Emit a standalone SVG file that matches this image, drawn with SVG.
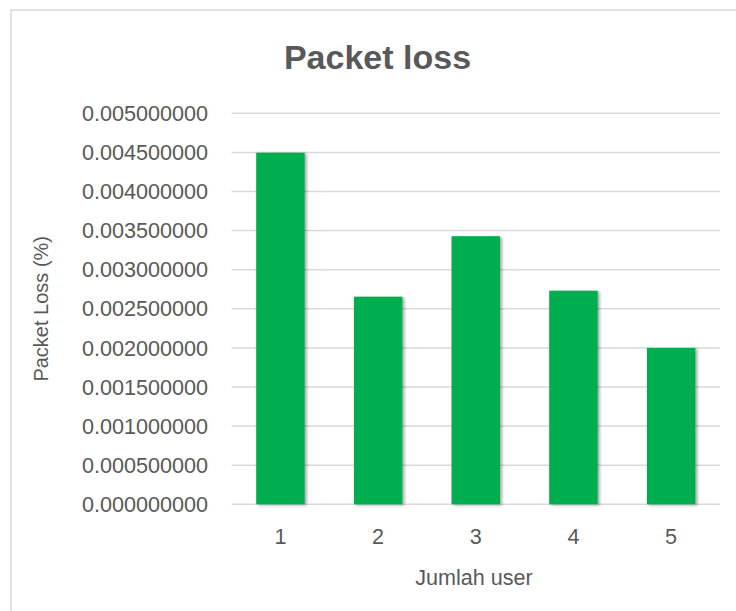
<svg xmlns="http://www.w3.org/2000/svg" width="736" height="611" viewBox="0 0 736 611">
  <defs>
    <style>
      .t { font-family: "Liberation Sans", Arial, sans-serif; fill: #595959; }
      .tick { font-size: 21.6px; text-anchor: end; }
      .xt { font-size: 21.6px; text-anchor: middle; }
      .grid { stroke: #D9D9D9; stroke-width: 1.5; fill: none; }
      .bar { fill: #00AD4F; }
    </style>
    <filter id="sh" x="-20%" y="-5%" width="140%" height="110%">
      <feDropShadow dx="2" dy="1" stdDeviation="1.6" flood-color="#000" flood-opacity="0.35"/>
    </filter>
  </defs>
  <rect x="0" y="0" width="736" height="611" fill="#FFFFFF"/>
  <rect x="11" y="10" width="760" height="640" fill="#FFFFFF" stroke="#D9D9D9" stroke-width="1.5"/>

  <text class="t" x="377.5" y="69" font-size="34" font-weight="bold" text-anchor="middle">Packet loss</text>

  <g id="gridlines">
    <line class="grid" x1="231.7" y1="113.3" x2="720" y2="113.3"/>
    <line class="grid" x1="231.7" y1="152.4" x2="720" y2="152.4"/>
    <line class="grid" x1="231.7" y1="191.5" x2="720" y2="191.5"/>
    <line class="grid" x1="231.7" y1="230.6" x2="720" y2="230.6"/>
    <line class="grid" x1="231.7" y1="269.7" x2="720" y2="269.7"/>
    <line class="grid" x1="231.7" y1="308.8" x2="720" y2="308.8"/>
    <line class="grid" x1="231.7" y1="347.9" x2="720" y2="347.9"/>
    <line class="grid" x1="231.7" y1="387.0" x2="720" y2="387.0"/>
    <line class="grid" x1="231.7" y1="426.1" x2="720" y2="426.1"/>
    <line class="grid" x1="231.7" y1="465.2" x2="720" y2="465.2"/>
    <line class="grid" x1="231.7" y1="504.3" x2="720" y2="504.3"/>
  </g>

  <g id="y-labels" class="t tick">
    <text x="208" y="120.9">0.005000000</text>
    <text x="208" y="160.0">0.004500000</text>
    <text x="208" y="199.1">0.004000000</text>
    <text x="208" y="238.2">0.003500000</text>
    <text x="208" y="277.3">0.003000000</text>
    <text x="208" y="316.4">0.002500000</text>
    <text x="208" y="355.5">0.002000000</text>
    <text x="208" y="394.6">0.001500000</text>
    <text x="208" y="433.7">0.001000000</text>
    <text x="208" y="472.8">0.000500000</text>
    <text x="208" y="511.9">0.000000000</text>
  </g>

  <g id="bars" filter="url(#sh)">
    <rect id="bar1" class="bar" x="256.2" y="152.7" width="48.5" height="351.6"/>
    <rect id="bar2" class="bar" x="353.9" y="296.7" width="48.5" height="207.6"/>
    <rect id="bar3" class="bar" x="451.5" y="236.2" width="48.5" height="268.1"/>
    <rect id="bar4" class="bar" x="549.2" y="290.7" width="48.5" height="213.6"/>
    <rect id="bar5" class="bar" x="646.9" y="347.9" width="48.5" height="156.4"/>
  </g>

  <g id="x-labels" class="t xt">
    <text x="280.5" y="543.5">1</text>
    <text x="378.1" y="543.5">2</text>
    <text x="475.8" y="543.5">3</text>
    <text x="573.5" y="543.5">4</text>
    <text x="671.1" y="543.5">5</text>
  </g>

  <text class="t xt" x="474" y="584.5">Jumlah user</text>
  <text class="t" font-size="20" text-anchor="middle" transform="translate(48,308.8) rotate(-90)">Packet Loss (%)</text>
</svg>
